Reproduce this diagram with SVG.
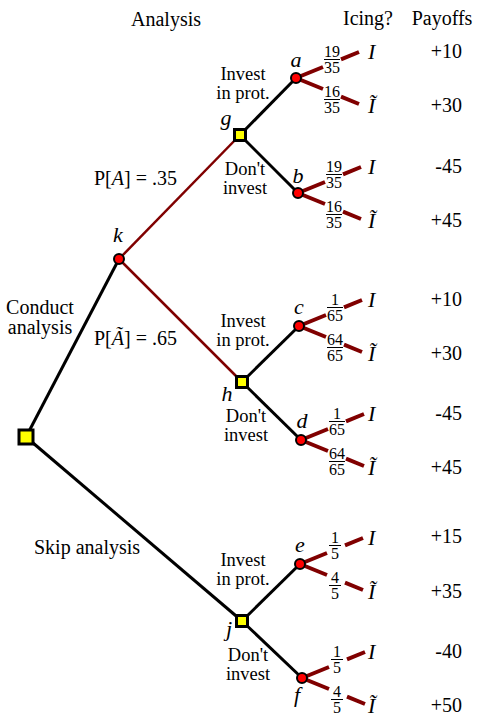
<svg xmlns="http://www.w3.org/2000/svg" width="483" height="726" viewBox="0 0 483 726">
<style>
text{font-family:'Liberation Serif','DejaVu Serif',serif;font-size:20px;fill:#000}
.it{font-style:italic;font-size:22px}
.sm{font-size:18.5px}
.mid{text-anchor:middle}
.end{text-anchor:end}
.fr{font-size:16px;text-anchor:middle}
.blk{stroke:#000;stroke-width:3;fill:none}
.red{stroke:#800000;stroke-width:2.5;fill:none}
.br{stroke:#800000;stroke-width:4;fill:none}
.bar{stroke:#000;stroke-width:1}
.dec{fill:#ffff00;stroke:#000;stroke-width:3}
.chn{fill:#ff0000;stroke:#000;stroke-width:2}
</style>
<defs>
<path id="fork" class="br" d="M0,0 L27,-11 M45,-18.6 L63,-26 M0,0 L27,11 M45,18.6 L63,26"/>
</defs>
<text x="166" y="26" class="mid">Analysis</text>
<text x="368" y="25" class="mid">Icing?</text>
<text x="442" y="25" class="mid">Payoffs</text>
<g id="connectors">
<line class="blk" x1="26" y1="437" x2="119" y2="259"/>
<line class="blk" x1="26" y1="437" x2="242" y2="621"/>
<line class="red" x1="119" y1="259" x2="240" y2="135"/>
<line class="red" x1="119" y1="259" x2="242" y2="382"/>
<line class="blk" x1="240" y1="135" x2="296" y2="78"/>
<line class="blk" x1="240" y1="135" x2="298" y2="193"/>
<line class="blk" x1="242" y1="382" x2="299" y2="326"/>
<line class="blk" x1="242" y1="382" x2="301" y2="440"/>
<line class="blk" x1="242" y1="621" x2="300" y2="564"/>
<line class="blk" x1="242" y1="621" x2="302" y2="678"/>
<text x="40" y="314" class="mid">Conduct</text>
<text x="40" y="334" class="mid">analysis</text>
<text x="34" y="554">Skip analysis</text>
<text x="94" y="185">P[<tspan font-style="italic">A</tspan>] = .35</text>
<text x="94" y="345">P[<tspan font-style="italic">Ã</tspan>] = .65</text>
<text x="243" y="80" class="mid sm">Invest</text><text x="243" y="99" class="mid sm">in prot.</text>
<text x="245" y="175" class="mid sm">Don't</text><text x="245" y="194" class="mid sm">invest</text>
<text x="243" y="327" class="mid sm">Invest</text><text x="243" y="346" class="mid sm">in prot.</text>
<text x="246" y="422" class="mid sm">Don't</text><text x="246" y="441" class="mid sm">invest</text>
<text x="243" y="566" class="mid sm">Invest</text><text x="243" y="585" class="mid sm">in prot.</text>
<text x="248" y="661" class="mid sm">Don't</text><text x="248" y="680" class="mid sm">invest</text>
<use href="#fork" x="296" y="78"/>
<use href="#fork" x="298" y="193"/>
<use href="#fork" x="299" y="326"/>
<use href="#fork" x="301" y="440"/>
<use href="#fork" x="300" y="564"/>
<use href="#fork" x="302" y="678"/>
</g>
<g id="outcomes">
<g transform="translate(296,78)">
<text class="fr" x="36" y="-21">19</text><line class="bar" x1="28" x2="44" y1="-18.5" y2="-18.5"/><text class="fr" x="36" y="-5">35</text>
<text class="fr" x="36" y="19">16</text><line class="bar" x1="28" x2="44" y1="21.5" y2="21.5"/><text class="fr" x="36" y="35">35</text>
</g>
<g transform="translate(298,193)">
<text class="fr" x="36" y="-21">19</text><line class="bar" x1="28" x2="44" y1="-18.5" y2="-18.5"/><text class="fr" x="36" y="-5">35</text>
<text class="fr" x="36" y="19">16</text><line class="bar" x1="28" x2="44" y1="21.5" y2="21.5"/><text class="fr" x="36" y="35">35</text>
</g>
<g transform="translate(299,326)">
<text class="fr" x="36" y="-21">1</text><line class="bar" x1="28" x2="44" y1="-18.5" y2="-18.5"/><text class="fr" x="36" y="-5">65</text>
<text class="fr" x="36" y="19">64</text><line class="bar" x1="28" x2="44" y1="21.5" y2="21.5"/><text class="fr" x="36" y="35">65</text>
</g>
<g transform="translate(301,440)">
<text class="fr" x="36" y="-21">1</text><line class="bar" x1="28" x2="44" y1="-18.5" y2="-18.5"/><text class="fr" x="36" y="-5">65</text>
<text class="fr" x="36" y="19">64</text><line class="bar" x1="28" x2="44" y1="21.5" y2="21.5"/><text class="fr" x="36" y="35">65</text>
</g>
<g transform="translate(300,564)">
<text class="fr" x="35" y="-21">1</text><line class="bar" x1="29" x2="41" y1="-18.5" y2="-18.5"/><text class="fr" x="35" y="-5">5</text>
<text class="fr" x="35" y="19">4</text><line class="bar" x1="29" x2="41" y1="21.5" y2="21.5"/><text class="fr" x="35" y="35">5</text>
</g>
<g transform="translate(302,678)">
<text class="fr" x="35" y="-21">1</text><line class="bar" x1="29" x2="41" y1="-18.5" y2="-18.5"/><text class="fr" x="35" y="-5">5</text>
<text class="fr" x="35" y="19">4</text><line class="bar" x1="29" x2="41" y1="21.5" y2="21.5"/><text class="fr" x="35" y="35">5</text>
</g>
<g>
<text class="it" x="368" y="59">I</text><text class="it" x="368" y="113">Ĩ</text>
<text class="it" x="368" y="174">I</text><text class="it" x="368" y="228">Ĩ</text>
<text class="it" x="368" y="307">I</text><text class="it" x="368" y="361">Ĩ</text>
<text class="it" x="368" y="421">I</text><text class="it" x="368" y="475">Ĩ</text>
<text class="it" x="368" y="545">I</text><text class="it" x="368" y="599">Ĩ</text>
<text class="it" x="368" y="659">I</text><text class="it" x="368" y="713">Ĩ</text>
</g>
<text class="end" x="462" y="58">+10</text><text class="end" x="462" y="112">+30</text>
<text class="end" x="462" y="173">-45</text><text class="end" x="462" y="227">+45</text>
<text class="end" x="462" y="306">+10</text><text class="end" x="462" y="360">+30</text>
<text class="end" x="462" y="420">-45</text><text class="end" x="462" y="474">+45</text>
<text class="end" x="462" y="543">+15</text><text class="end" x="462" y="598">+35</text>
<text class="end" x="462" y="658">-40</text><text class="end" x="462" y="712">+50</text>
</g>
<g id="root"><rect class="dec" x="19" y="430" width="14" height="14"/></g>
<g id="k"><circle class="chn" cx="119" cy="259" r="5"/><text class="it mid" x="118" y="242">k</text></g>
<g id="g"><rect class="dec" x="234.5" y="129.5" width="11" height="11"/><text class="it mid" x="226" y="125">g</text></g>
<g id="h"><rect class="dec" x="236.5" y="376.5" width="11" height="11"/><text class="it mid" x="227" y="401">h</text></g>
<g id="j"><rect class="dec" x="236.5" y="615.5" width="11" height="11"/><text class="it mid" x="229" y="636">j</text></g>
<g id="a"><circle class="chn" cx="296" cy="78" r="5"/><text class="it mid" x="296" y="67">a</text></g>
<g id="b"><circle class="chn" cx="298" cy="193" r="5"/><text class="it mid" x="298" y="183">b</text></g>
<g id="c"><circle class="chn" cx="299" cy="326" r="5"/><text class="it mid" x="299" y="314">c</text></g>
<g id="d"><circle class="chn" cx="301" cy="440" r="5"/><text class="it mid" x="302" y="428">d</text></g>
<g id="e"><circle class="chn" cx="300" cy="564" r="5"/><text class="it mid" x="300" y="552">e</text></g>
<g id="f"><circle class="chn" cx="302" cy="678" r="5"/><text class="it mid" x="297" y="702">f</text></g>
</svg>
